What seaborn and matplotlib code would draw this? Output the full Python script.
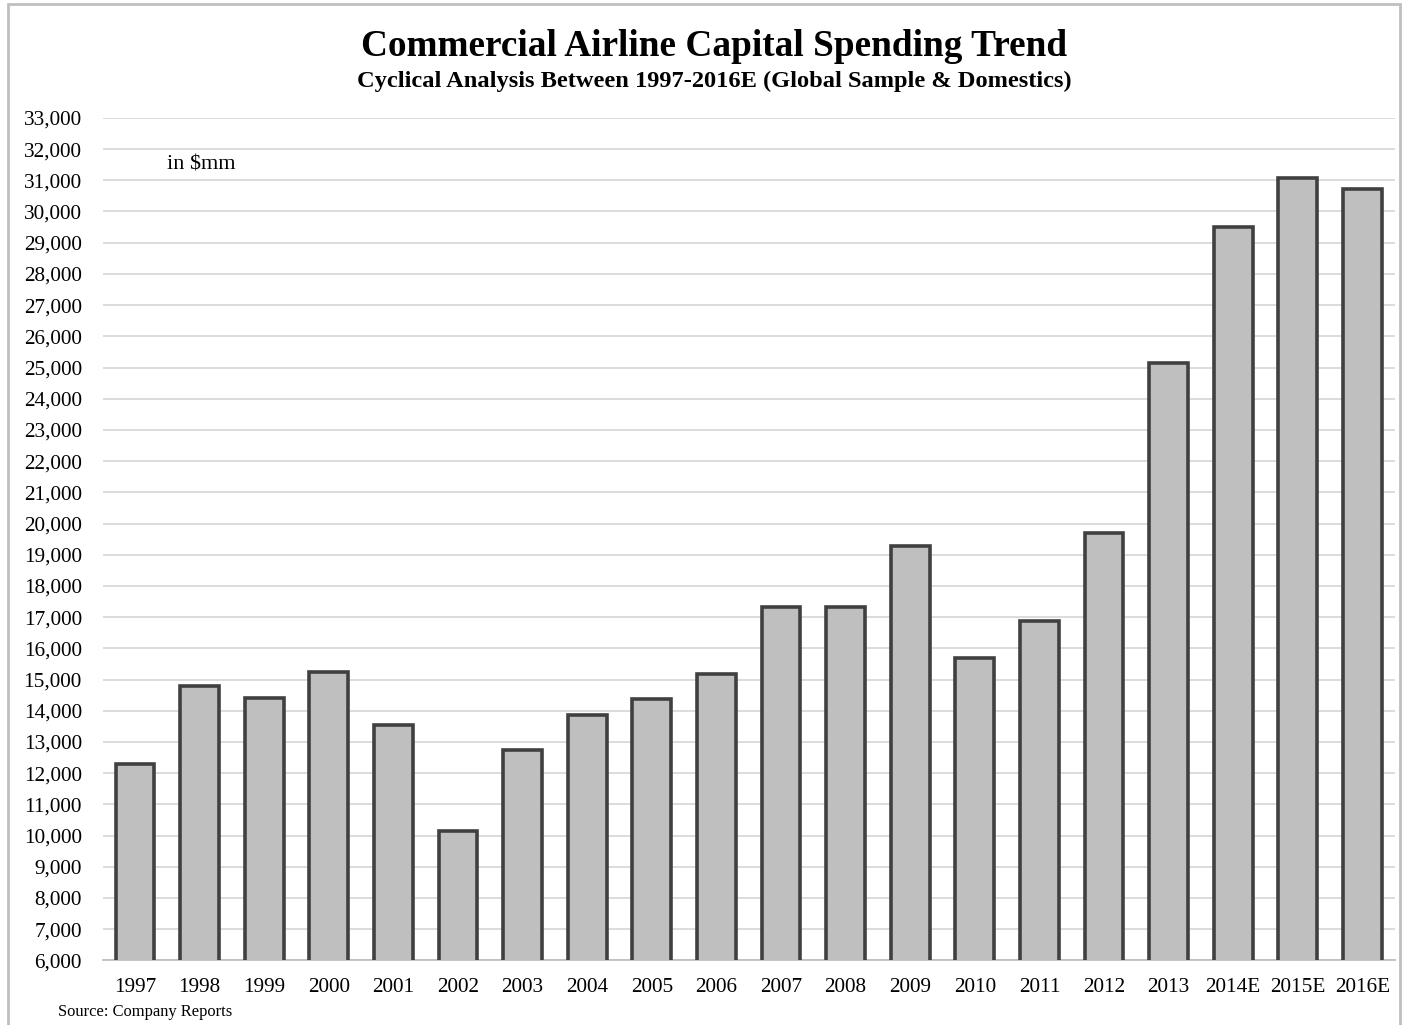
#!/usr/bin/env python3
# Commercial airline capital spending bar chart (1997-2016E)

import numpy as np
import pandas as pd
import seaborn as sns
import matplotlib.pyplot as plt
from matplotlib.patches import Rectangle
from matplotlib.ticker import FuncFormatter, MultipleLocator

YEARS = ["1997", "1998", "1999", "2000", "2001", "2002", "2003", "2004", "2005", "2006",
         "2007", "2008", "2009", "2010", "2011", "2012", "2013", "2014E", "2015E", "2016E"]
CAPEX_MM = [12280, 14780, 14400, 15240, 13530, 10140, 12740, 13870, 14380, 15180,
            17330, 17330, 19280, 15700, 16890, 19700, 25130, 29500, 31070, 30720]

FILL = "#BFBFBF"
EDGE = "#404040"
GRID = "#D9D9D9"

def main():
    df = pd.DataFrame({"year": YEARS, "capex": CAPEX_MM})

    sns.set_theme(style="white")
    plt.rcParams["font.family"] = ["Liberation Serif", "DejaVu Serif"]
    plt.rcParams["text.color"] = "black"

    fig = plt.figure(figsize=(14.06, 10.25), dpi=100)
    ax = fig.add_axes([0.073, 0.063, 0.919, 0.822])

    sns.barplot(data=df, x="year", y="capex", color=FILL, saturation=1,
                width=0.6, edgecolor=EDGE, linewidth=2.6, ax=ax, zorder=3)

    ax.set_ylim(6000, 33000)
    ax.set_xlim(-0.5, len(YEARS) - 0.5)
    ax.yaxis.set_major_locator(MultipleLocator(1000))
    ax.yaxis.set_major_formatter(FuncFormatter(lambda v, _: f"{int(v):,}"))
    ax.grid(True, axis="y", color=GRID, linewidth=1.3, zorder=0)
    ax.set_axisbelow(True)
    for side in ("top", "right", "left"):
        ax.spines[side].set_visible(False)
    ax.spines["bottom"].set_color("#BFBFBF")
    ax.spines["bottom"].set_linewidth(1.3)
    ax.tick_params(axis="both", length=0, labelsize=15.3, colors="black")
    ax.tick_params(axis="y", pad=15)
    ax.tick_params(axis="x", pad=13)
    ax.set_xlabel("")
    ax.set_ylabel("")

    fig.text(0.508, 0.955, "Commercial Airline Capital Spending Trend",
             ha="center", va="center", fontsize=26.8, fontweight="bold")
    fig.text(0.508, 0.921, "Cyclical Analysis Between 1997-2016E (Global Sample & Domestics)",
             ha="center", va="center", fontsize=17.6, fontweight="bold")
    ax.text(0.05, 0.944, "in $mm", transform=ax.transAxes, ha="left", va="center",
            fontsize=16)
    fig.text(0.041, 0.013, "Source: Company Reports", ha="left", va="center", fontsize=11.9)

    # light frame around the whole chart
    fig.patches.append(Rectangle((0.006, -0.01), 0.99, 1.006, transform=fig.transFigure,
                                 fill=False, edgecolor="#BFBFBF", linewidth=2))

    fig.savefig("out.png", dpi=100)

if __name__ == "__main__":
    main()
